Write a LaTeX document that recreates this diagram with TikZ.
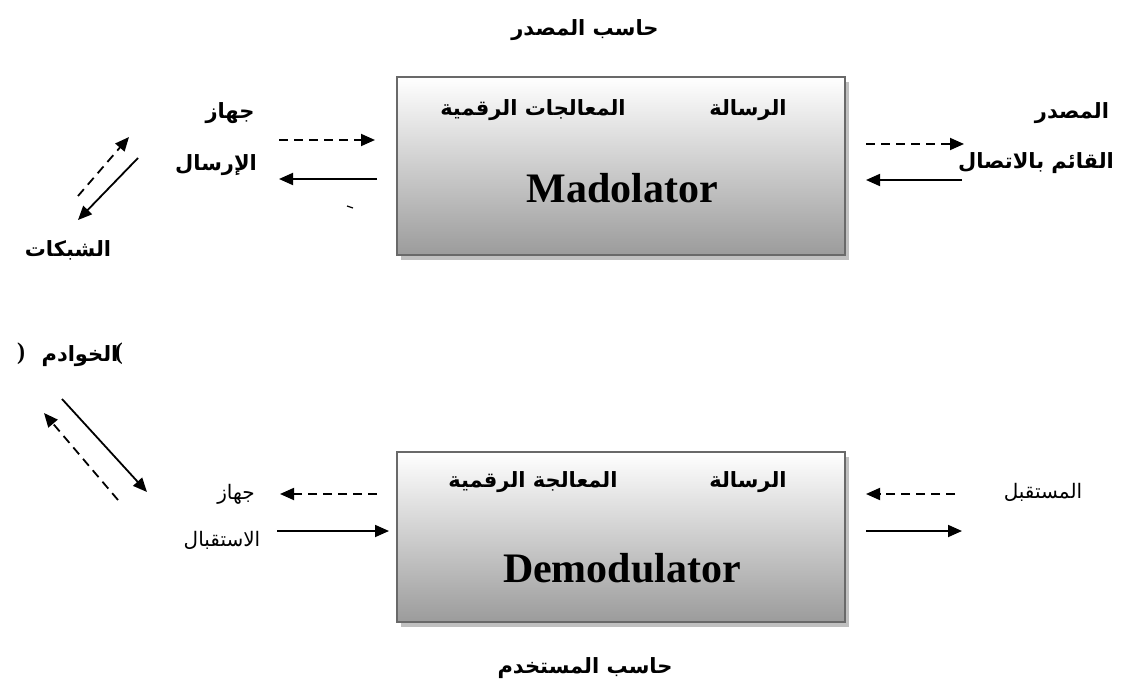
\documentclass[tikz,border=0pt]{standalone}
\usepackage{fontspec}
\setmainfont{Liberation Serif}
\newfontfamily\arabicfont[Script=Arabic]{DejaVu Sans}
\usetikzlibrary{arrows.meta,shadows}
\TeXXeTstate=1
\newcommand{\rtltext}[1]{\beginR #1\endR}
\definecolor{boxedge}{RGB}{105,105,105}
\definecolor{boxshadow}{RGB}{192,192,192}
\begin{document}
\begin{tikzpicture}[x=1pt,y=-1pt,
  lblb/.style={inner sep=0pt,font=\arabicfont\bfseries\fontsize{21}{25}\selectfont},
  lblr/.style={inner sep=0pt,font=\arabicfont\fontsize{20}{24}\selectfont},
  paren/.style={inner sep=0pt,font=\bfseries\fontsize{24}{28}\selectfont},
  unit/.style={draw=boxedge,line width=2.5pt,minimum width=448pt,minimum height=#1,
    top color=white,bottom color=gray!78,inner sep=0pt,
    drop shadow={shadow xshift=4pt,shadow yshift=-5pt,fill=boxshadow,opacity=1}},
  big/.style={inner sep=0pt,font=\bfseries\fontsize{42}{46}\selectfont},
  flow/.style={line width=1.8pt,-{Triangle[length=14pt,width=12pt]}},
  flowd/.style={flow,dash pattern=on 9pt off 6pt}
]
\useasboundingbox (0,0) rectangle (1144,695);

% --- sender computer ---
\node[lblb] (srctitle) at (585,30) {\rtltext{حاسب المصدر}};
\node[unit=178pt] (mod) at (621,166) {};
\node[lblb] (modmsg) at (748,110) {\rtltext{الرسالة}};
\node[lblb] (modproc) at (533,110) {\rtltext{المعالجات الرقمية}};
\node[big] (modname) at (622,188) {Madolator};

% source side
\node[lblb] (srcA) at (1072,113) {\rtltext{المصدر}};
\node[lblb] (srcB) at (1036,163) {\rtltext{القائم بالاتصال}};
\coordinate (r1a) at (866,144); \coordinate (r1b) at (964,144);
\coordinate (r2a) at (962,180); \coordinate (r2b) at (866,180);
\draw[flowd] (r1a) -- (r1b);
\draw[flow] (r2a) -- (r2b);

% transmitter side
\node[lblb] (txA) at (230,113) {\rtltext{جهاز}};
\node[lblb] (txB) at (216,165) {\rtltext{الإرسال}};
\coordinate (l1a) at (279,140); \coordinate (l1b) at (375,140);
\coordinate (l2a) at (377,179); \coordinate (l2b) at (279,179);
\draw[flowd] (l1a) -- (l1b);
\draw[flow] (l2a) -- (l2b);
\coordinate (tk1) at (347,206); \coordinate (tk2) at (353,208);
\draw[line width=1.2pt] (tk1) -- (tk2);

% network link (top)
\coordinate (d1a) at (78,196); \coordinate (d1b) at (129,137);
\coordinate (d2a) at (138,158); \coordinate (d2b) at (78,220);
\draw[flowd] (d1a) -- (d1b);
\draw[flow] (d2a) -- (d2b);

\node[lblb] (net) at (68,250) {\rtltext{الشبكات}};
\node[lblb] (srv) at (80,356) {\rtltext{الخوادم}};
% the bracket glyphs come out mirrored here, so each side takes the other one
\node[paren,anchor=east] (srvL) at ([xshift=-16pt,yshift=2pt]srv.west) {)};
\node[paren,anchor=west] (srvR) at ([xshift=-4pt,yshift=2pt]srv.east) {(};

% network link (bottom)
\coordinate (d3a) at (62,399); \coordinate (d3b) at (147,492);
\coordinate (d4a) at (118,500); \coordinate (d4b) at (44,413);
\draw[flow] (d3a) -- (d3b);
\draw[flowd] (d4a) -- (d4b);

% --- user computer ---
\node[unit=170pt] (dem) at (621,537) {};
\node[lblb] (demmsg) at (748,482) {\rtltext{الرسالة}};
\node[lblb] (demproc) at (533,482) {\rtltext{المعالجة الرقمية}};
\node[big] (demname) at (622,568) {Demodulator};
\node[lblb] (usrtitle) at (585,668) {\rtltext{حاسب المستخدم}};

% receiver side
\node[lblr] (rxA) at (236,494) {\rtltext{جهاز}};
\node[lblr] (rxB) at (222,540) {\rtltext{الاستقبال}};
\coordinate (b1a) at (377,494); \coordinate (b1b) at (280,494);
\coordinate (b2a) at (277,531); \coordinate (b2b) at (389,531);
\draw[flowd] (b1a) -- (b1b);
\draw[flow] (b2a) -- (b2b);

% destination side
\node[lblr] (dst) at (1043,492) {\rtltext{المستقبل}};
\coordinate (b3a) at (955,494); \coordinate (b3b) at (866,494);
\coordinate (b4a) at (866,531); \coordinate (b4b) at (962,531);
\draw[flowd] (b3a) -- (b3b);
\draw[flow] (b4a) -- (b4b);
\end{tikzpicture}
\end{document}
